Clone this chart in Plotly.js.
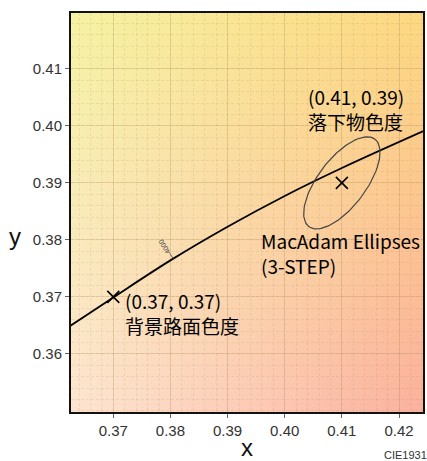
<!DOCTYPE html>
<html>
<head>
<meta charset="utf-8">
<script src="https://cdn.plot.ly/plotly-3.0.1.min.js"></script>
<style>html,body{margin:0;padding:0;background:#fff;}#chart{width:427px;height:461px;}</style>
</head>
<body>
<div id="chart"></div>
<script>
// Planckian locus
const locusX = [0.3620, 0.3700, 0.3800, 0.3900, 0.4000, 0.4100, 0.4250];
const locusY = [0.3646, 0.3699, 0.3764, 0.3823, 0.3877, 0.3926, 0.3994];
// chromaticity points
const pointX = [0.37, 0.41];
const pointY = [0.37, 0.39];
// MacAdam ellipse (3-step) parameters
const ellCenterX = 0.41, ellCenterY = 0.39;
const ellA = 0.0096, ellB = 0.0042, ellThetaDeg = 53;
// 4000K mark on the locus
const cctLabel = "4000";
const cctX = 0.3805, cctY = 0.3767;
// tick values
const xTicks = [0.37, 0.38, 0.39, 0.40, 0.41, 0.42];
const yTicks = [0.36, 0.37, 0.38, 0.39, 0.40, 0.41];

// ellipse outline
const ex = [], ey = [];
const th = ellThetaDeg * Math.PI / 180;
for (let i = 0; i <= 120; i++) {
  const t = 2 * Math.PI * i / 120;
  const u = ellA * Math.cos(t), v = ellB * Math.sin(t);
  ex.push(ellCenterX + u * Math.cos(th) - v * Math.sin(th));
  ey.push(ellCenterY + u * Math.sin(th) + v * Math.cos(th));
}

// background gradient image
function gradient() {
  const W = 64, H = 64;
  const c = document.createElement('canvas'); c.width = W; c.height = H;
  const ctx = c.getContext('2d');
  const img = ctx.createImageData(W, H);
  const tl = [245, 242, 164], tr = [253, 216, 130], bl = [253, 229, 208], br = [251, 178, 158];
  for (let j = 0; j < H; j++) for (let i = 0; i < W; i++) {
    const fx = i / (W - 1), fy = j / (H - 1);
    const k = (j * W + i) * 4;
    for (let ch = 0; ch < 3; ch++) {
      const top = tl[ch] * (1 - fx) + tr[ch] * fx;
      const bot = bl[ch] * (1 - fx) + br[ch] * fx;
      img.data[k + ch] = Math.round(top * (1 - fy) + bot * fy);
    }
    img.data[k + 3] = 255;
  }
  ctx.putImageData(img, 0, 0);
  return c.toDataURL('image/png');
}

const jp = '"Noto Sans CJK JP", "Noto Sans", sans-serif';
const latin = '"Liberation Sans", Arial, sans-serif';
const traces = [
  {x: locusX, y: locusY, mode: 'lines', line: {color: '#000', width: 1.8, shape: 'spline', smoothing: 1}, hoverinfo: 'skip'},
  {x: ex, y: ey, mode: 'lines', line: {color: '#444', width: 1.2}, hoverinfo: 'skip'},
  {x: pointX, y: pointY, mode: 'markers',
   marker: {symbol: 'x-thin', size: 12, color: '#000', line: {color: '#000', width: 1.6}}}
];

function ann(text, px, py, size) {
  return {text: text, xref: 'paper', yref: 'paper',
    x: (px - 71) / 352, y: (412 - py) / 399, xanchor: 'left', yanchor: 'middle', align: 'left',
    showarrow: false, font: {family: jp, size: size, color: '#000'}};
}

const annotations = [
  ann('(0.41, 0.39)<br>落下物色度', 306, 108.5, 19),
  ann('MacAdam Ellipses<br>(3-STEP)', 259, 252.5, 19),
  ann('(0.37, 0.37)<br>背景路面色度', 123, 312.5, 19),
  {text: cctLabel, x: cctX - 0.0015, y: cctY + 0.0021, xref: 'x', yref: 'y', showarrow: false,
   textangle: -122, font: {family: latin, size: 7, color: '#444'}},
  {text: 'x', xref: 'paper', yref: 'paper', x: 0.5, y: (412 - 447) / 399, xanchor: 'center', yanchor: 'middle',
   showarrow: false, font: {family: latin, size: 24, color: '#111'}},
  {text: 'y', xref: 'paper', yref: 'paper', x: (15 - 71) / 352, y: (412 - 236) / 399, xanchor: 'center', yanchor: 'middle',
   showarrow: false, font: {family: latin, size: 24, color: '#111'}},
  {text: 'CIE1931', xref: 'paper', yref: 'paper', x: (382 - 71) / 352, y: (412 - 455) / 399, xanchor: 'left', yanchor: 'middle',
   showarrow: false, font: {family: latin, size: 11, color: '#333'}}
];

const axisCommon = {
  showline: true, mirror: true, linecolor: '#111', linewidth: 2,
  ticks: 'outside', ticklen: 4, tickwidth: 1, tickcolor: '#666',
  tickfont: {family: latin, size: 15, color: '#333'},
  showgrid: true, gridcolor: 'rgba(170,130,80,0.22)', gridwidth: 1,
  zeroline: false, tickformat: '.2f', tickmode: 'array',
  minor: {dtick: 0.002, showgrid: true, gridcolor: 'rgba(170,130,80,0.15)', griddash: '3px,2px', gridwidth: 1, ticks: ''}
};

const layout = {
  width: 427, height: 461,
  margin: {l: 71, r: 4, t: 13, b: 49},
  paper_bgcolor: '#fff', plot_bgcolor: 'rgba(0,0,0,0)',
  showlegend: false,
  xaxis: Object.assign({}, axisCommon, {range: [0.3626, 0.4242], tickvals: xTicks,
    minor: Object.assign({}, axisCommon.minor, {tick0: 0.36})}),
  yaxis: Object.assign({}, axisCommon, {range: [0.3498, 0.4198], tickvals: yTicks,
    minor: Object.assign({}, axisCommon.minor, {tick0: 0.35})}),
  images: [{source: gradient(), xref: 'paper', yref: 'paper', x: 0, y: 1, sizex: 1, sizey: 1,
    sizing: 'stretch', xanchor: 'left', yanchor: 'top', layer: 'below'}],
  shapes: [{type: 'line', xref: 'x', yref: 'y', x0: cctX, y0: cctY, x1: cctX - 0.0006, y1: cctY + 0.0009,
    line: {color: '#444', width: 0.8}}],
  annotations: annotations
};

Plotly.newPlot('chart', traces, layout, {displayModeBar: false, staticPlot: true});
</script>
</body>
</html>
